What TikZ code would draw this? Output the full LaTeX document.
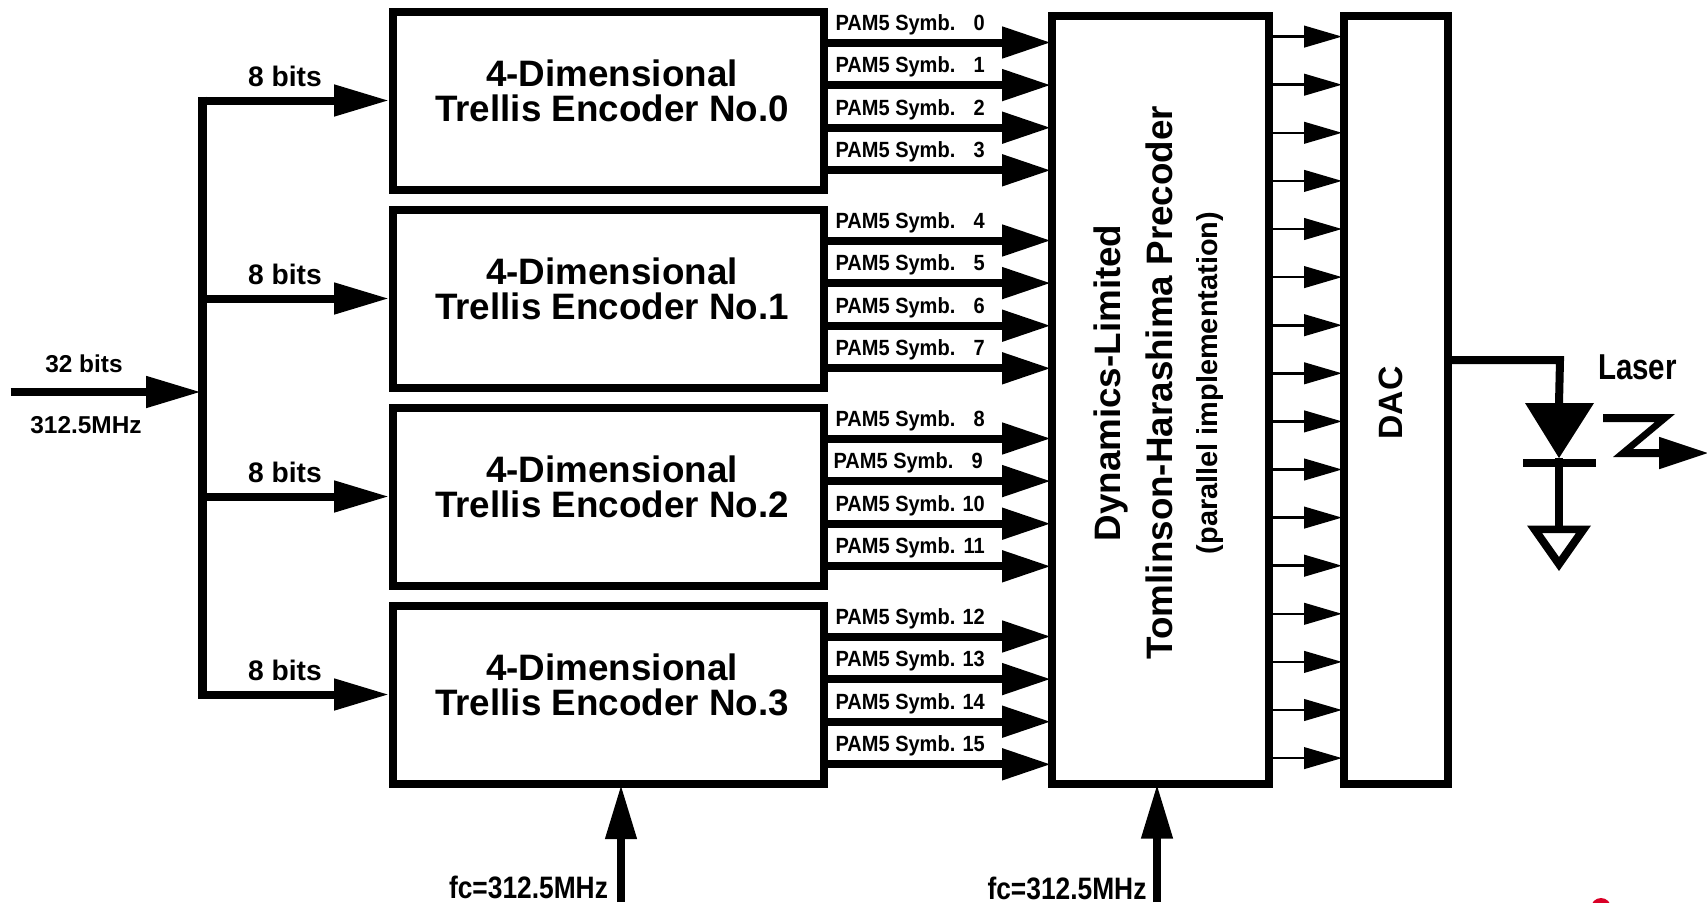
\documentclass[tikz,border=0pt]{standalone}
\usepackage{fontspec}
\setmainfont{Liberation Sans}
\usetikzlibrary{arrows.meta}
\newcommand{\pamlabel}[1]{\scalebox{.91}[1]{\hbox to 164pt{PAM5 Symb.\hfill #1}}}
\tikzset{
  boxstyle/.style={draw=black,line width=8pt,fill=white,inner sep=0pt},
  enc/.style={boxstyle,minimum width=431pt,minimum height=178pt},
  tall/.style={boxstyle,minimum height=768pt},
  bigtxt/.style={font=\fontsize{36.8}{35}\selectfont\bfseries,align=center,inner sep=0pt},
  midtxt/.style={font=\fontsize{28.2}{30}\selectfont\bfseries,inner sep=0pt},
  smalltxt/.style={font=\fontsize{24.4}{26}\selectfont\bfseries,inner sep=0pt},
  pamtxt/.style={font=\fontsize{22}{24}\selectfont\bfseries,inner sep=0pt},
  clocktxt/.style={font=\fontsize{31}{33}\selectfont\bfseries,inner sep=0pt},
  busarrow/.style={line width=8pt,-{Triangle[length=55pt,width=30pt]}},
  inputarrow/.style={line width=8pt,shorten >=-3pt,-{Triangle[length=55pt,width=30pt]}},
  symarrow/.style={line width=8pt,shorten >=-3pt,-{Triangle[length=49pt,width=30pt]}},
  thinarrow/.style={line width=2.6pt,shorten >=-2pt,-{Triangle[length=38pt,width=21.5pt]}},
  clockarrow/.style={line width=7.5pt,shorten >=-3pt,-{Triangle[length=54pt,width=30pt]}},
  wire/.style={line width=8pt},
}
\begin{document}
\begin{tikzpicture}[x=1pt,y=-1pt]
\useasboundingbox (0,0) rectangle (1707,902);
% boxes
\foreach \k/\yy in {0/100.5,1/298.5,2/496.5,3/694.5}{
  \node[enc] (enc\k) at (608.5,\yy+0.5) {};
  \node[bigtxt] (enctxt\k) at (612,\yy-10) {4-Dimensional\\Trellis Encoder No.\k};
  \coordinate (in\k) at (202.5,\yy);
  \draw[busarrow] (in\k) -- (enc\k.west |- in\k);
  \node[midtxt] (bits\k) at (285,\yy-24.5) {8 bits};
}
\node[tall,minimum width=217pt] (pre) at (1160.5,399.5) {};
\node[tall,minimum width=104pt] (dac) at (1396,399.5) {};
\node[bigtxt,rotate=90] (t1) at (1111,383) {Dynamics-Limited};
\node[bigtxt,rotate=90] (t2) at (1159,382.6) {Tomlinson-Harashima Precoder};
\node[midtxt,rotate=90,font=\fontsize{28.9}{30}\selectfont\bfseries] (t3) at (1210,383) {(parallel implementation)};
\node[bigtxt,rotate=90,font=\fontsize{33.7}{36}\selectfont\bfseries] (t4) at (1391,403) {DAC};
% symbols
\foreach \n in {0,...,15}{
  \pgfmathsetmacro{\kk}{int(floor(\n/4))}
  \pgfmathsetmacro{\jj}{int(mod(\n,4))}
  \pgfmathsetmacro{\ly}{42.5+198*\kk+42.6*\jj}
  \coordinate (s\n) at (900,\ly);
  \draw[symarrow] (enc\kk.east |- s\n) -- (pre.west |- s\n);
  \ifnum\n=9
    \node[pamtxt,anchor=east] (p\n) at (983,\ly-18) {\pamlabel{\n}};
  \else
    \node[pamtxt,anchor=east] (p\n) at (985,\ly-18) {\pamlabel{\n}};
  \fi
  \pgfmathsetmacro{\ty}{36.6+48.1*\n}
  \coordinate (o\n) at (1300,\ty);
  \draw[thinarrow] (pre.east |- o\n) -- (dac.west |- o\n);
}
% input
\coordinate (inp) at (10.7,392);
\coordinate (inq) at (198,392);
\coordinate (bustop) at (202.5,96.5);
\coordinate (busbot) at (202.5,698.5);
\draw[line width=9pt] (bustop) -- (busbot);
\draw[inputarrow] (inp) -- (inq);
\node[smalltxt] (n32) at (84,364) {32 bits};
\node[smalltxt] (nf) at (86,425) {312.5MHz};
% clocks
\coordinate (c1) at (621,902);
\coordinate (c2) at (1157,902);
\draw[clockarrow] (c1) -- (enc3.south -| c1);
\draw[clockarrow] (c2) -- (pre.south -| c2);
\node[clocktxt] (f1) at (528.5,887) {\scalebox{.85}[1]{fc=312.5MHz}};
\node[clocktxt] (f2) at (1067,888) {\scalebox{.85}[1]{fc=312.5MHz}};
% laser
\coordinate (lk) at (1560,360);
\coordinate (diodetop) at (1559,403);
\coordinate (diodebot) at (1559,458);
\coordinate (gtop) at (1559,526);
\draw[wire] (dac.east |- lk) -- (lk) -- (diodetop);
\fill (1525,403) -- (1594,403) -- (diodebot) -- cycle;
\draw[wire] (1523,462.5) -- (1596,462.5);
\draw[wire] (diodebot) -- (gtop);
\fill[even odd rule] (1527,525.5) -- (1591,525.5) -- (1559,571) -- cycle
  (1542,533) -- (1576,533) -- (1559,557) -- cycle;
\fill (1603,414) -- (1675,414) -- (1633,449) -- (1660,449) -- (1660,457) -- (1613,457) -- (1655,422) -- (1603,422) -- cycle;
\coordinate (zs) at (1650,453);
\coordinate (zt) at (1707,453);
\draw[line width=8pt,shorten >=-2pt,-{Triangle[length=50pt,width=30pt]}] (zs) -- (zt);
\node[font=\fontsize{36}{38}\selectfont\bfseries,inner sep=0pt] (las) at (1637.5,367) {\scalebox{.82}[1]{Laser}};
\begin{scope}
\clip (0,0) rectangle (1707,902);
\fill[red!85!blue] (1601,908) circle (10);
\end{scope}
\end{tikzpicture}
\end{document}
